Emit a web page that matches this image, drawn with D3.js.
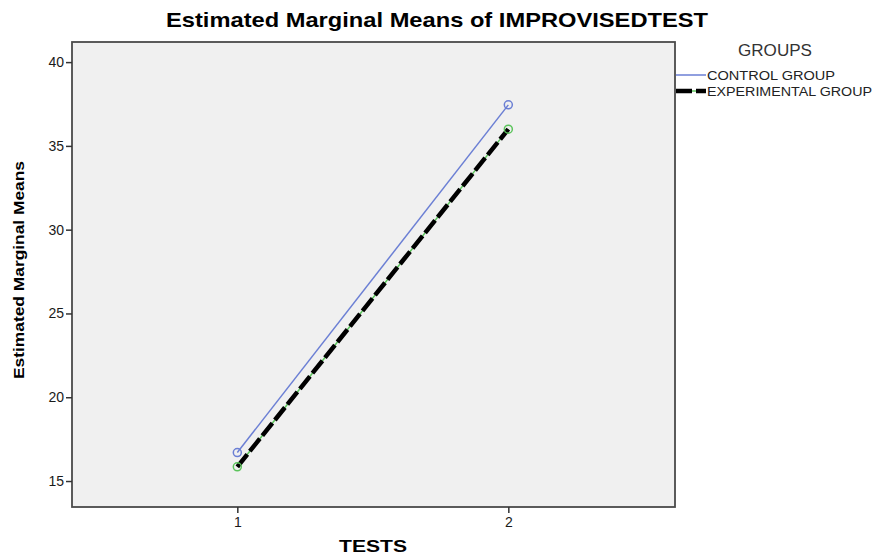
<!DOCTYPE html>
<html>
<head>
<meta charset="utf-8">
<script src="https://cdn.jsdelivr.net/npm/d3@7"></script>
<style>
  body { margin: 0; background: #fff; }
  text { font-family: "Liberation Sans", Arial, sans-serif; }
</style>
</head>
<body>
<div id="chart"></div>
<script>
  var tests = [1, 2];
  var controlMeans = [16.7, 37.45];
  var experimentalMeans = [15.85, 36.0];
  var yTicks = [15, 20, 25, 30, 35, 40];
  var groupNames = ["CONTROL GROUP", "EXPERIMENTAL GROUP"];

  var width = 874, height = 556;
  var plotLeft = 72, plotRight = 675, plotTop = 42, plotBottom = 507;

  var svg = d3.select("#chart").append("svg")
    .attr("width", width).attr("height", height);

  var x = d3.scaleLinear().domain([0.39, 2.615]).range([plotLeft, plotRight]);
  var y = d3.scaleLinear().domain([13.45, 41.2]).range([plotBottom, plotTop]);

  // plot background
  svg.append("rect")
    .attr("x", plotLeft).attr("y", plotTop)
    .attr("width", plotRight - plotLeft).attr("height", plotBottom - plotTop)
    .attr("fill", "#f0f0f0")
    .attr("stroke", "#4a4a4a").attr("stroke-width", 1.8);

  // axes
  var yAxis = svg.append("g")
    .attr("transform", "translate(" + plotLeft + ",0)")
    .call(d3.axisLeft(y).tickValues(yTicks).tickSize(6).tickSizeOuter(0));
  var xAxis = svg.append("g")
    .attr("transform", "translate(0," + plotBottom + ")")
    .call(d3.axisBottom(x).tickValues(tests).tickFormat(d3.format("d")).tickSize(6).tickSizeOuter(0));
  [yAxis, xAxis].forEach(function(a) {
    a.select(".domain").remove();
    a.selectAll("line").attr("stroke", "#333").attr("stroke-width", 1.5);
    a.selectAll("text").attr("font-size", "14px").attr("fill", "#1a1a1a")
      .attr("font-family", "Liberation Sans, Arial, sans-serif");
  });
  yAxis.selectAll("text").attr("x", -8);
  xAxis.selectAll("text").attr("y", 10);

  var line = d3.line().x(function(d, i) { return x(tests[i]); }).y(function(d) { return y(d); });

  // control group
  svg.append("path").datum(controlMeans)
    .attr("d", line).attr("fill", "none")
    .attr("stroke", "#6b7fd4").attr("stroke-width", 1.5);
  svg.selectAll(".cdot").data(controlMeans).enter().append("circle")
    .attr("cx", function(d, i) { return x(tests[i]); })
    .attr("cy", function(d) { return y(d); })
    .attr("r", 4).attr("fill", "none").attr("stroke", "#6b7fd4").attr("stroke-width", 1.5);

  // experimental group
  svg.append("path").datum(experimentalMeans)
    .attr("d", line).attr("fill", "none")
    .attr("stroke", "#5cc45c").attr("stroke-width", 1.5);
  svg.append("path").datum(experimentalMeans)
    .attr("d", line).attr("fill", "none")
    .attr("stroke", "#000").attr("stroke-width", 4.5)
    .attr("stroke-dasharray", "16,4");
  svg.selectAll(".edot").data(experimentalMeans).enter().append("circle")
    .attr("cx", function(d, i) { return x(tests[i]); })
    .attr("cy", function(d) { return y(d); })
    .attr("r", 4).attr("fill", "none").attr("stroke", "#5cc45c").attr("stroke-width", 1.5);

  // title
  svg.append("text")
    .attr("x", 437).attr("y", 27)
    .attr("text-anchor", "middle")
    .attr("font-size", "21px").attr("font-weight", "bold")
    .attr("textLength", 542).attr("lengthAdjust", "spacingAndGlyphs")
    .text("Estimated Marginal Means of IMPROVISEDTEST");

  // axis titles
  svg.append("text")
    .attr("x", 373).attr("y", 552)
    .attr("text-anchor", "middle")
    .attr("font-size", "17px").attr("font-weight", "bold")
    .attr("textLength", 68).attr("lengthAdjust", "spacingAndGlyphs")
    .text("TESTS");
  svg.append("text")
    .attr("transform", "translate(24,270) rotate(-90)")
    .attr("text-anchor", "middle")
    .attr("font-size", "15px").attr("font-weight", "bold")
    .attr("textLength", 218).attr("lengthAdjust", "spacingAndGlyphs")
    .text("Estimated Marginal Means");

  // legend
  svg.append("text")
    .attr("x", 775).attr("y", 56)
    .attr("text-anchor", "middle")
    .attr("font-size", "16px").attr("fill", "#333")
    .attr("textLength", 74).attr("lengthAdjust", "spacingAndGlyphs")
    .text("GROUPS");
  var lg = svg.append("g");
  lg.append("line").attr("x1", 676).attr("x2", 706).attr("y1", 75).attr("y2", 75)
    .attr("stroke", "#6b7fd4").attr("stroke-width", 1.5);
  lg.append("line").attr("x1", 676).attr("x2", 706).attr("y1", 91).attr("y2", 91)
    .attr("stroke", "#5cc45c").attr("stroke-width", 1.5);
  lg.append("line").attr("x1", 676).attr("x2", 706).attr("y1", 91).attr("y2", 91)
    .attr("stroke", "#000").attr("stroke-width", 4.5).attr("stroke-dasharray", "16,4");
  lg.selectAll(".lt").data(groupNames).enter().append("text")
    .attr("x", 707).attr("y", function(d, i) { return 80 + i * 16; })
    .attr("font-size", "12px").attr("fill", "#222")
    .attr("textLength", function(d, i) { return i === 0 ? 128 : 165; })
    .attr("lengthAdjust", "spacingAndGlyphs")
    .text(function(d) { return d; });
</script>
</body>
</html>
